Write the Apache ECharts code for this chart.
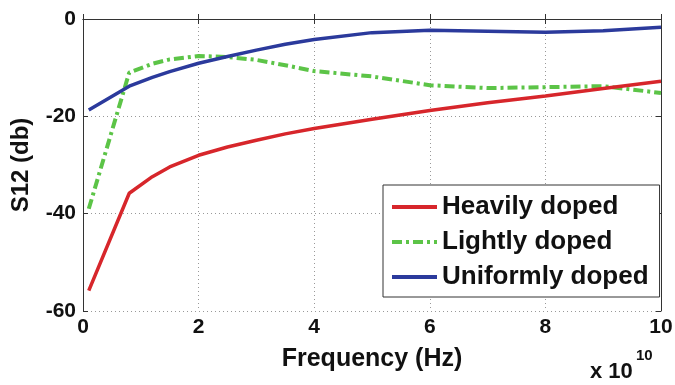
<!DOCTYPE html>
<html>
<head>
<meta charset="utf-8">
<script src="https://cdn.jsdelivr.net/npm/echarts@6/dist/echarts.min.js"></script>
<style>
  html, body { margin: 0; padding: 0; background: #fff; }
  #main { width: 675px; height: 385px; }
</style>
</head>
<body>
<div id="main"></div>
<script>
// frequency in units of 1e10 Hz
var freq = [0.1, 0.8, 1.2, 1.5, 2, 2.5, 3, 3.5, 4, 5, 6, 7, 8, 9, 10];
var heavy = [-55.8, -35.8, -32.4, -30.4, -28, -26.3, -24.9, -23.6, -22.5, -20.6, -18.8, -17.2, -15.8, -14.3, -12.8];
var light = [-39, -11, -9.2, -8.3, -7.6, -7.8, -8.4, -9.5, -10.7, -11.8, -13.6, -14.2, -14.0, -13.8, -15.2];
var uniform = [-18.7, -13.8, -12, -10.8, -9.1, -7.7, -6.4, -5.2, -4.2, -2.8, -2.3, -2.5, -2.7, -2.4, -1.7];
var names = ['Heavily doped', 'Lightly doped', 'Uniformly doped'];

function pairs(ys) {
    return freq.map(function (f, i) { return [f, ys[i]]; });
}

var chart = echarts.init(document.getElementById('main'));
var font = 'Liberation Sans, Arial, sans-serif';
var frame = '#333';

var option = {
    animation: false,
    backgroundColor: '#fff',
    grid: { left: 83, right: 14, top: 19, bottom: 74, outerBoundsMode: 'none', containLabel: false },
    legend: {
        orient: 'vertical',
        left: 383,
        top: 185,
        padding: [9, 11, 7, 7],
        itemGap: 9,
        itemWidth: 45,
        itemHeight: 14,
        backgroundColor: '#fff',
        borderColor: frame,
        borderWidth: 1,
        borderRadius: 0,
        itemStyle: { opacity: 0 },
        lineStyle: { width: 4 },
        textStyle: { fontFamily: font, fontWeight: 'bold', fontSize: 26, color: '#111', lineHeight: 26 },
        data: names
    },
    xAxis: [{
        type: 'value', min: 0, max: 10, interval: 2,
        name: 'Frequency (Hz)', nameLocation: 'middle', nameGap: 36,
        nameTextStyle: { fontFamily: font, fontWeight: 'bold', fontSize: 25, color: '#111' },
        axisLine: { show: true, lineStyle: { color: frame, width: 1 } },
        axisTick: { show: true, inside: true, length: 5, lineStyle: { color: frame } },
        axisLabel: { margin: 6, fontFamily: font, fontWeight: 'bold', fontSize: 21, color: '#111' },
        splitLine: { show: true, lineStyle: { color: '#999', type: [1, 3], width: 1 } }
    }, {
        type: 'value', min: 0, max: 10, interval: 2, position: 'top',
        axisLine: { show: true, onZero: false, lineStyle: { color: frame, width: 1 } },
        axisTick: { show: true, inside: true, length: 5, lineStyle: { color: frame } },
        axisLabel: { show: false },
        splitLine: { show: false }
    }],
    yAxis: [{
        type: 'value', min: -60, max: 0, interval: 20,
        name: 'S12 (db)', nameLocation: 'middle', nameGap: 50,
        nameTextStyle: { fontFamily: font, fontWeight: 'bold', fontSize: 24, color: '#111' },
        axisLine: { show: true, onZero: false, lineStyle: { color: frame, width: 1 } },
        axisTick: { show: true, inside: true, length: 5, lineStyle: { color: frame } },
        axisLabel: { margin: 7, fontFamily: font, fontWeight: 'bold', fontSize: 21, color: '#111' },
        splitLine: { show: true, lineStyle: { color: '#999', type: [1, 3], width: 1 } }
    }, {
        type: 'value', min: -60, max: 0, interval: 20, position: 'right',
        axisLine: { show: true, onZero: false, lineStyle: { color: frame, width: 1 } },
        axisTick: { show: true, inside: true, length: 5, lineStyle: { color: frame } },
        axisLabel: { show: false },
        splitLine: { show: false }
    }],
    graphic: [{
        type: 'text', left: 590, top: 361,
        style: { text: 'x 10', font: 'bold 22px ' + font, fill: '#111' }
    }, {
        type: 'text', left: 636, top: 348,
        style: { text: '10', font: 'bold 15px ' + font, fill: '#111' }
    }],
    series: [{
        name: names[0], type: 'line', symbol: 'none', data: pairs(heavy),
        lineStyle: { color: '#d7262b', width: 3.5 }, itemStyle: { color: '#d7262b' }, z: 3
    }, {
        name: names[1], type: 'line', symbol: 'none', data: pairs(light),
        lineStyle: { color: '#5cc447', width: 4, type: [10, 4, 3, 4] }, itemStyle: { color: '#5cc447' }, z: 2
    }, {
        name: names[2], type: 'line', symbol: 'none', data: pairs(uniform),
        lineStyle: { color: '#2b3a9c', width: 3.5 }, itemStyle: { color: '#2b3a9c' }, z: 4
    }]
};
chart.setOption(option);
</script>
</body>
</html>
